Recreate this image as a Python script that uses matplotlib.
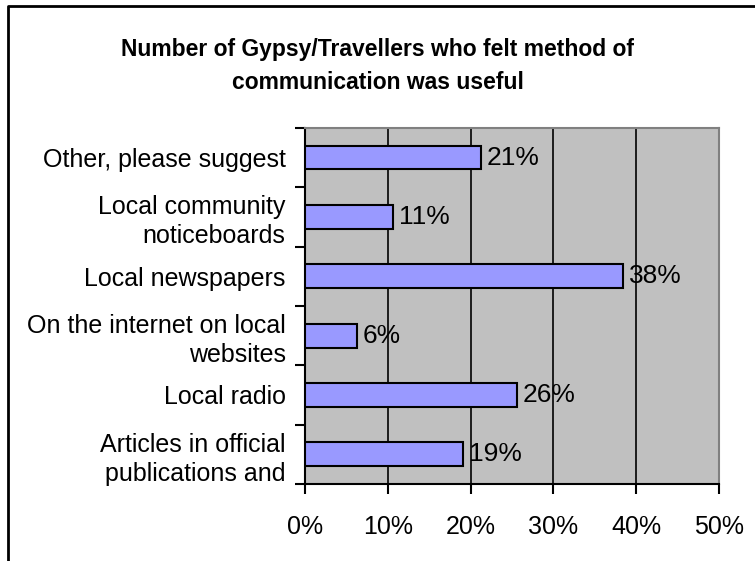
import numpy as np
import matplotlib
matplotlib.use('Agg')
import matplotlib.pyplot as plt
from matplotlib.lines import Line2D

plt.rcParams['font.family'] = ['Liberation Sans', 'DejaVu Sans']

categories = [
    'Articles in official\npublications and',
    'Local radio',
    'On the internet on local\nwebsites',
    'Local newspapers',
    'Local community\nnoticeboards',
    'Other, please suggest',
]
values = [19.1, 25.6, 6.3, 38.4, 10.6, 21.3]
value_labels = ['19%', '26%', '6%', '38%', '11%', '21%']
x_ticks = [0, 10, 20, 30, 40, 50]
x_tick_labels = ['0%', '10%', '20%', '30%', '40%', '50%']

title = 'Number of Gypsy/Travellers who felt method of\ncommunication was useful'

fig = plt.figure(figsize=(7.55, 5.61), dpi=100)
ax = fig.add_axes([0.404, 0.1373, 0.548, 0.6346])
ax.set_facecolor('#C0C0C0')

y = np.arange(len(categories))
ax.barh(y, values, height=0.4, color='#9999FF', edgecolor='black', linewidth=1.5, zorder=3)

for yi, v, lab in zip(y, values, value_labels):
    ax.text(v + 0.7, yi, lab, va='center', ha='left', fontsize=19, zorder=4)

ax.set_xlim(0, 50)
ax.set_ylim(-0.5, len(categories) - 0.5)
ax.set_xticks(x_ticks)
ax.set_xticklabels(x_tick_labels, fontsize=18)
ax.set_yticks(y)
ax.set_yticklabels(categories, fontsize=18, ha='right', linespacing=1.25)
ax.tick_params(axis='y', which='major', length=0, pad=14)
ax.set_yticks(np.arange(len(categories) + 1) - 0.5, minor=True)
ax.tick_params(axis='y', which='minor', length=7, width=1.5, color='black')
ax.tick_params(axis='x', length=7, width=1.5, pad=15)

ax.grid(axis='x', color='black', linewidth=1.2, zorder=1)
ax.set_axisbelow(True)

for s in ['top', 'right']:
    ax.spines[s].set_color('#808080')
    ax.spines[s].set_linewidth(1.5)
for s in ['left', 'bottom']:
    ax.spines[s].set_color('black')
    ax.spines[s].set_linewidth(1.5)

fig.text(0.5, 0.882, title, ha='center', va='center', fontsize=16.5,
         fontweight='bold', linespacing=1.55)

# outer chart frame (left and top edges only visible)
fig.add_artist(Line2D([8 / 755, 8 / 755, 1.0], [0.0, 1 - 6 / 561, 1 - 6 / 561],
                      transform=fig.transFigure, color='black', linewidth=2))

fig.savefig('out.png', dpi=100)
